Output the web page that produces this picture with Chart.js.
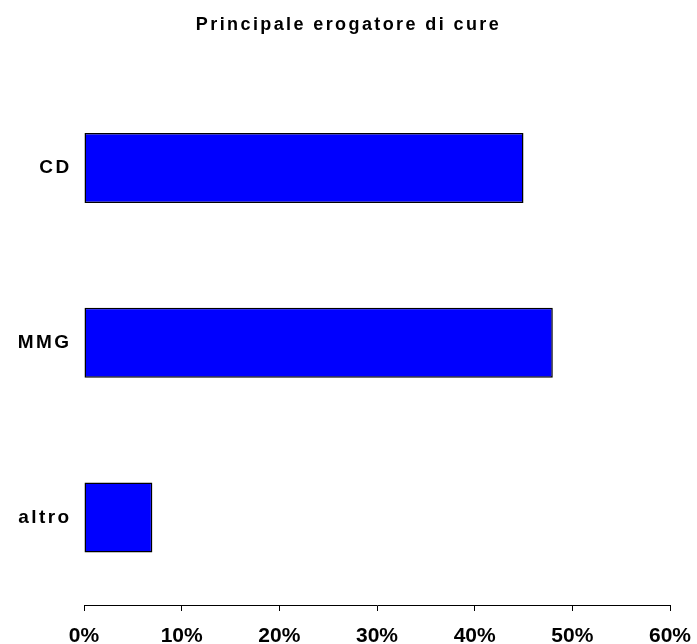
<!DOCTYPE html>
<html>
<head>
<meta charset="utf-8">
<script src="https://cdn.jsdelivr.net/npm/chart.js@4/dist/chart.umd.min.js"></script>
<style>
  html, body { margin: 0; padding: 0; background: #fff; }
  #chartBox { width: 697px; height: 644px; }
</style>
</head>
<body>
<div id="chartBox"><canvas id="careChart" width="697" height="644"></canvas></div>
<script>
// data
const categories = ["CD", "MMG", "altro"];
const shares = [45, 48, 7]; // percent
const tickMax = 60;
const tickStep = 10;

// title and category labels have widely spaced glyphs, the % ticks do not
const SPACING = "2.4px";
const spacingPlugin = {
  id: "spacing",
  beforeUpdate(chart) { chart.ctx.letterSpacing = SPACING; },
  beforeDraw(chart) { chart.ctx.letterSpacing = SPACING; }
};

const font = "'Liberation Sans', Arial, sans-serif";

const ctx = document.getElementById("careChart").getContext("2d");
const careChart = new Chart(ctx, {
  type: "bar",
  data: {
    labels: categories,
    datasets: [
      {
        data: shares,
        backgroundColor: "#0000ff",
        borderColor: "#000000",
        borderWidth: 1.5,
        borderSkipped: false,
        barPercentage: 0.4,
        categoryPercentage: 1
      }
    ]
  },
  options: {
    indexAxis: "y",
    responsive: false,
    animation: false,
    layout: { padding: 0 },
    scales: {
      x: {
        min: 0,
        max: tickMax,
        afterFit(scale) {
          scale.height = 39;
          scale.paddingLeft = 0;
          scale.paddingRight = 27;
          if (!scale._plainLabels) {
            const orig = scale.drawLabels;
            scale.drawLabels = function (area) {
              const c = this.ctx;
              c.save();
              c.letterSpacing = "0px";
              orig.call(this, area);
              c.restore();
            };
            scale._plainLabels = true;
          }
        },
        border: { display: true, color: "#000", width: 1 },
        grid: { drawOnChartArea: false, drawTicks: true, tickLength: 6, color: "#000" },
        ticks: {
          stepSize: tickStep,
          padding: 13,
          color: "#000",
          font: { family: font, size: 21, weight: "bold" },
          maxRotation: 0,
          callback: (v) => v + "%"
        }
      },
      y: {
        afterFit(scale) { scale.width = 84; },
        border: { display: false },
        grid: { display: false, drawTicks: false },
        ticks: {
          padding: 12.5,
          color: "#000",
          font: { family: font, size: 19, weight: "bold" }
        }
      }
    },
    plugins: {
      legend: { display: false },
      tooltip: { enabled: false },
      title: {
        display: true,
        text: "Principale erogatore di cure",
        color: "#000",
        font: { family: font, size: 18, weight: "bold" },
        padding: { top: 14.7, bottom: 44.2 }
      }
    }
  },
  plugins: [spacingPlugin]
});
</script>
</body>
</html>
